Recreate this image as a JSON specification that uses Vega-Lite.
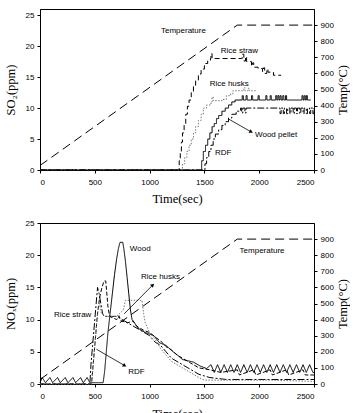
{
"$schema": "https://vega.github.io/schema/vega-lite/v6.json",
"padding": {"left": 3, "top": 8, "right": 0, "bottom": 0},
"spacing": 13,
"resolve": {"scale": {"color": "independent", "strokeDash": "independent"}},
"config": {
 "view": {"stroke": "#000", "strokeWidth": 1},
 "axis": {"grid": false, "domainColor": "#000", "tickColor": "#000", "labelColor": "#000", "titleColor": "#000", "labelFont": "Liberation Sans", "labelFontSize": 8, "titleFont": "Liberation Serif", "titleFontSize": 12.5, "titleFontWeight": "normal", "tickSize": 3, "labelPadding": 3, "labelOverlap": false},
 "text": {"font": "Liberation Sans", "fontSize": 8, "color": "#000"}
},
"datasets": {
 "temp": [{"t":0,"temp":28},{"t":1800,"temp":900},{"t":2500,"temp":900}],
 "so2": [
  {"s":"Rice straw","t":0,"v":0},{"s":"Rice straw","t":1260,"v":0},{"s":"Rice straw","t":1270,"v":1.5},{"s":"Rice straw","t":1280,"v":3},{"s":"Rice straw","t":1290,"v":4.5},{"s":"Rice straw","t":1300,"v":6},{"s":"Rice straw","t":1315,"v":7.5},{"s":"Rice straw","t":1330,"v":9},{"s":"Rice straw","t":1345,"v":10.3},{"s":"Rice straw","t":1360,"v":11.3},{"s":"Rice straw","t":1380,"v":12.5},{"s":"Rice straw","t":1400,"v":13.5},{"s":"Rice straw","t":1420,"v":14.5},{"s":"Rice straw","t":1445,"v":15.5},{"s":"Rice straw","t":1470,"v":16.3},{"s":"Rice straw","t":1500,"v":17.2},{"s":"Rice straw","t":1530,"v":17.7},{"s":"Rice straw","t":1555,"v":18},{"s":"Rice straw","t":1560,"v":18.8},{"s":"Rice straw","t":1570,"v":18},{"s":"Rice straw","t":1840,"v":18},{"s":"Rice straw","t":1845,"v":18.7},{"s":"Rice straw","t":1860,"v":17.6},{"s":"Rice straw","t":1875,"v":18.3},{"s":"Rice straw","t":1885,"v":17.5},{"s":"Rice straw","t":1930,"v":16.8},{"s":"Rice straw","t":1940,"v":17.3},{"s":"Rice straw","t":1950,"v":16.6},{"s":"Rice straw","t":1990,"v":16.4},{"s":"Rice straw","t":2030,"v":15.9},{"s":"Rice straw","t":2040,"v":16.5},{"s":"Rice straw","t":2050,"v":15.6},{"s":"Rice straw","t":2070,"v":16.3},{"s":"Rice straw","t":2080,"v":15.8},{"s":"Rice straw","t":2110,"v":15.8},{"s":"Rice straw","t":2130,"v":15.3},{"s":"Rice straw","t":2200,"v":15.3},
  {"s":"Rice husks","t":0,"v":0},{"s":"Rice husks","t":1290,"v":0},{"s":"Rice husks","t":1300,"v":1},{"s":"Rice husks","t":1320,"v":2},{"s":"Rice husks","t":1340,"v":3},{"s":"Rice husks","t":1360,"v":4},{"s":"Rice husks","t":1380,"v":5},{"s":"Rice husks","t":1400,"v":6},{"s":"Rice husks","t":1420,"v":7},{"s":"Rice husks","t":1445,"v":8},{"s":"Rice husks","t":1470,"v":9},{"s":"Rice husks","t":1490,"v":10},{"s":"Rice husks","t":1520,"v":10.5},{"s":"Rice husks","t":1560,"v":11},{"s":"Rice husks","t":1570,"v":11.8},{"s":"Rice husks","t":1580,"v":11.2},{"s":"Rice husks","t":1660,"v":11.4},{"s":"Rice husks","t":1700,"v":12},{"s":"Rice husks","t":1740,"v":12.3},{"s":"Rice husks","t":1760,"v":12.8},{"s":"Rice husks","t":1850,"v":12.8},{"s":"Rice husks","t":1860,"v":13.3},{"s":"Rice husks","t":1870,"v":12.8},{"s":"Rice husks","t":1900,"v":13.2},{"s":"Rice husks","t":1910,"v":12.8},{"s":"Rice husks","t":1970,"v":12.8},
  {"s":"Wood pellet","t":0,"v":0},{"s":"Wood pellet","t":1465,"v":0},{"s":"Wood pellet","t":1475,"v":1.5},{"s":"Wood pellet","t":1490,"v":3},{"s":"Wood pellet","t":1510,"v":4},{"s":"Wood pellet","t":1530,"v":5},{"s":"Wood pellet","t":1550,"v":6},{"s":"Wood pellet","t":1570,"v":7},{"s":"Wood pellet","t":1590,"v":7.5},{"s":"Wood pellet","t":1610,"v":8.3},{"s":"Wood pellet","t":1630,"v":8.8},{"s":"Wood pellet","t":1660,"v":9.5},{"s":"Wood pellet","t":1690,"v":10},{"s":"Wood pellet","t":1720,"v":10.5},{"s":"Wood pellet","t":1750,"v":11},{"s":"Wood pellet","t":1780,"v":11.3},{"s":"Wood pellet","t":1840,"v":11.3},{"s":"Wood pellet","t":1845,"v":12},{"s":"Wood pellet","t":1855,"v":11.3},{"s":"Wood pellet","t":1880,"v":12},{"s":"Wood pellet","t":1890,"v":11.3},{"s":"Wood pellet","t":1930,"v":12},{"s":"Wood pellet","t":1940,"v":11.3},{"s":"Wood pellet","t":1990,"v":12},{"s":"Wood pellet","t":2000,"v":11.3},{"s":"Wood pellet","t":2060,"v":12},{"s":"Wood pellet","t":2070,"v":11.3},{"s":"Wood pellet","t":2100,"v":12},{"s":"Wood pellet","t":2110,"v":11.3},{"s":"Wood pellet","t":2150,"v":12},{"s":"Wood pellet","t":2160,"v":11.3},{"s":"Wood pellet","t":2170,"v":12},{"s":"Wood pellet","t":2180,"v":11.3},{"s":"Wood pellet","t":2190,"v":12},{"s":"Wood pellet","t":2200,"v":11.3},{"s":"Wood pellet","t":2215,"v":12},{"s":"Wood pellet","t":2225,"v":11.3},{"s":"Wood pellet","t":2240,"v":12},{"s":"Wood pellet","t":2250,"v":11.3},{"s":"Wood pellet","t":2390,"v":12},{"s":"Wood pellet","t":2400,"v":11.3},{"s":"Wood pellet","t":2410,"v":12},{"s":"Wood pellet","t":2420,"v":11.3},{"s":"Wood pellet","t":2430,"v":12},{"s":"Wood pellet","t":2440,"v":11.3},{"s":"Wood pellet","t":2470,"v":11.3},
  {"s":"RDF","t":0,"v":0},{"s":"RDF","t":1495,"v":0},{"s":"RDF","t":1505,"v":1},{"s":"RDF","t":1520,"v":2},{"s":"RDF","t":1540,"v":3},{"s":"RDF","t":1560,"v":4},{"s":"RDF","t":1580,"v":5},{"s":"RDF","t":1600,"v":5.8},{"s":"RDF","t":1630,"v":6.5},{"s":"RDF","t":1660,"v":7.2},{"s":"RDF","t":1690,"v":7.8},{"s":"RDF","t":1720,"v":8.4},{"s":"RDF","t":1750,"v":9},{"s":"RDF","t":1790,"v":9.5},{"s":"RDF","t":1830,"v":10},{"s":"RDF","t":1840,"v":9.2},{"s":"RDF","t":1850,"v":10},{"s":"RDF","t":1870,"v":9.2},{"s":"RDF","t":1880,"v":10},{"s":"RDF","t":2180,"v":10},{"s":"RDF","t":2190,"v":9.1},{"s":"RDF","t":2200,"v":10},{"s":"RDF","t":2220,"v":9.1},{"s":"RDF","t":2230,"v":10},{"s":"RDF","t":2250,"v":9.1},{"s":"RDF","t":2260,"v":10},{"s":"RDF","t":2280,"v":9.1},{"s":"RDF","t":2290,"v":10},{"s":"RDF","t":2310,"v":9.1},{"s":"RDF","t":2320,"v":10},{"s":"RDF","t":2340,"v":9.1},{"s":"RDF","t":2350,"v":10},{"s":"RDF","t":2370,"v":9.1},{"s":"RDF","t":2380,"v":10},{"s":"RDF","t":2400,"v":9.1},{"s":"RDF","t":2410,"v":10},{"s":"RDF","t":2430,"v":9.1},{"s":"RDF","t":2440,"v":10},{"s":"RDF","t":2460,"v":9.1},{"s":"RDF","t":2470,"v":10},{"s":"RDF","t":2490,"v":9.1},{"s":"RDF","t":2500,"v":10}
 ],
 "lab1": [
  {"t":1104,"v":22.4,"label":"Temperature"},
  {"t":1649,"v":19.2,"label":"Rice straw"},
  {"t":1548,"v":13.9,"label":"Rice husks"},
  {"t":1962,"v":5.7,"label":"Wood pellet"},
  {"t":1597,"v":2.8,"label":"RDF"}
 ],
 "arr1": [{"name":"Wood pellet","t":1724,"v":8.2,"t2":1922,"v2":6.2}],
 "nox": [
  {"s":"Wood","t":0,"v":0.2},{"s":"Wood","t":20,"v":1},{"s":"Wood","t":50,"v":0.2},{"s":"Wood","t":90,"v":1},{"s":"Wood","t":115,"v":0.2},{"s":"Wood","t":160,"v":1},{"s":"Wood","t":185,"v":0.2},{"s":"Wood","t":230,"v":1},{"s":"Wood","t":255,"v":0.2},{"s":"Wood","t":300,"v":1},{"s":"Wood","t":325,"v":0.2},{"s":"Wood","t":370,"v":1},{"s":"Wood","t":395,"v":0.2},{"s":"Wood","t":430,"v":1},{"s":"Wood","t":455,"v":0.2},{"s":"Wood","t":576,"v":0.2},{"s":"Wood","t":590,"v":2},{"s":"Wood","t":605,"v":5},{"s":"Wood","t":620,"v":8},{"s":"Wood","t":640,"v":11},{"s":"Wood","t":660,"v":14},{"s":"Wood","t":680,"v":17},{"s":"Wood","t":700,"v":19.5},{"s":"Wood","t":715,"v":21},{"s":"Wood","t":730,"v":22},{"s":"Wood","t":755,"v":22},{"s":"Wood","t":765,"v":21},{"s":"Wood","t":780,"v":19},{"s":"Wood","t":795,"v":16.5},{"s":"Wood","t":810,"v":14},{"s":"Wood","t":825,"v":11.5},{"s":"Wood","t":840,"v":10},{"s":"Wood","t":870,"v":9.3},{"s":"Wood","t":900,"v":8.6},{"s":"Wood","t":960,"v":8},{"s":"Wood","t":1040,"v":7.5},{"s":"Wood","t":1090,"v":6.4},{"s":"Wood","t":1150,"v":6},{"s":"Wood","t":1200,"v":5.2},{"s":"Wood","t":1260,"v":4.4},{"s":"Wood","t":1300,"v":3.8},{"s":"Wood","t":1400,"v":3.4},{"s":"Wood","t":1460,"v":2.8},{"s":"Wood","t":1520,"v":2.4},{"s":"Wood","t":1560,"v":3},{"s":"Wood","t":1590,"v":1.8},{"s":"Wood","t":1620,"v":3},{"s":"Wood","t":1650,"v":1.8},{"s":"Wood","t":1680,"v":3},{"s":"Wood","t":1710,"v":1.8},{"s":"Wood","t":1740,"v":3},{"s":"Wood","t":1770,"v":1.8},{"s":"Wood","t":1800,"v":3},{"s":"Wood","t":1830,"v":1.8},{"s":"Wood","t":1860,"v":3},{"s":"Wood","t":1890,"v":1.8},{"s":"Wood","t":1920,"v":3},{"s":"Wood","t":1950,"v":1.8},{"s":"Wood","t":1980,"v":3},{"s":"Wood","t":2010,"v":1.8},{"s":"Wood","t":2040,"v":3},{"s":"Wood","t":2070,"v":1.8},{"s":"Wood","t":2100,"v":3},{"s":"Wood","t":2130,"v":1.8},{"s":"Wood","t":2160,"v":3},{"s":"Wood","t":2190,"v":1.8},{"s":"Wood","t":2220,"v":3},{"s":"Wood","t":2250,"v":1.8},{"s":"Wood","t":2280,"v":3},{"s":"Wood","t":2310,"v":1.8},{"s":"Wood","t":2340,"v":3},{"s":"Wood","t":2370,"v":1.8},{"s":"Wood","t":2400,"v":3},{"s":"Wood","t":2430,"v":1.8},{"s":"Wood","t":2460,"v":3},{"s":"Wood","t":2490,"v":1.8},{"s":"Wood","t":2500,"v":1.8},
  {"s":"RDF","t":0,"v":0},{"s":"RDF","t":470,"v":0},{"s":"RDF","t":480,"v":2},{"s":"RDF","t":495,"v":5},{"s":"RDF","t":510,"v":8},{"s":"RDF","t":525,"v":11},{"s":"RDF","t":545,"v":13.5},{"s":"RDF","t":565,"v":15},{"s":"RDF","t":585,"v":16},{"s":"RDF","t":600,"v":16},{"s":"RDF","t":610,"v":14},{"s":"RDF","t":620,"v":12},{"s":"RDF","t":635,"v":10.5},{"s":"RDF","t":700,"v":10},{"s":"RDF","t":720,"v":10.6},{"s":"RDF","t":740,"v":9.8},{"s":"RDF","t":800,"v":9.5},{"s":"RDF","t":850,"v":9.8},{"s":"RDF","t":880,"v":9},{"s":"RDF","t":950,"v":8.3},{"s":"RDF","t":1000,"v":8},{"s":"RDF","t":1050,"v":7.3},{"s":"RDF","t":1100,"v":6.7},{"s":"RDF","t":1150,"v":5.8},{"s":"RDF","t":1200,"v":5.3},{"s":"RDF","t":1250,"v":4.5},{"s":"RDF","t":1300,"v":4},{"s":"RDF","t":1350,"v":3.5},{"s":"RDF","t":1400,"v":3},{"s":"RDF","t":1450,"v":2.5},{"s":"RDF","t":1550,"v":2.2},{"s":"RDF","t":1650,"v":1.8},{"s":"RDF","t":1800,"v":2.2},{"s":"RDF","t":1820,"v":1.4},{"s":"RDF","t":1950,"v":2.2},{"s":"RDF","t":1970,"v":1.4},{"s":"RDF","t":2100,"v":2.2},{"s":"RDF","t":2120,"v":1.4},{"s":"RDF","t":2250,"v":2.2},{"s":"RDF","t":2270,"v":1.4},{"s":"RDF","t":2400,"v":2.2},{"s":"RDF","t":2420,"v":1.4},{"s":"RDF","t":2500,"v":1.4},
  {"s":"Rice straw","t":0,"v":0},{"s":"Rice straw","t":455,"v":0},{"s":"Rice straw","t":465,"v":3},{"s":"Rice straw","t":480,"v":6},{"s":"Rice straw","t":495,"v":9},{"s":"Rice straw","t":510,"v":12},{"s":"Rice straw","t":525,"v":15},{"s":"Rice straw","t":540,"v":14},{"s":"Rice straw","t":555,"v":12.5},{"s":"Rice straw","t":570,"v":11},{"s":"Rice straw","t":585,"v":10.5},{"s":"Rice straw","t":700,"v":10.5},{"s":"Rice straw","t":750,"v":10},{"s":"Rice straw","t":800,"v":9.5},{"s":"Rice straw","t":850,"v":9},{"s":"Rice straw","t":900,"v":8.5},{"s":"Rice straw","t":950,"v":8},{"s":"Rice straw","t":1000,"v":7.5},{"s":"Rice straw","t":1050,"v":6.5},{"s":"Rice straw","t":1100,"v":6},{"s":"Rice straw","t":1150,"v":5},{"s":"Rice straw","t":1200,"v":4},{"s":"Rice straw","t":1250,"v":3.5},{"s":"Rice straw","t":1300,"v":3},{"s":"Rice straw","t":1350,"v":2.5},{"s":"Rice straw","t":1400,"v":2},{"s":"Rice straw","t":1450,"v":1.5},{"s":"Rice straw","t":1550,"v":1},{"s":"Rice straw","t":1700,"v":0.7},{"s":"Rice straw","t":2500,"v":0.7},
  {"s":"Rice husks","t":0,"v":0},{"s":"Rice husks","t":470,"v":0},{"s":"Rice husks","t":485,"v":3},{"s":"Rice husks","t":500,"v":6},{"s":"Rice husks","t":515,"v":9},{"s":"Rice husks","t":530,"v":11.5},{"s":"Rice husks","t":545,"v":12.5},{"s":"Rice husks","t":560,"v":11},{"s":"Rice husks","t":600,"v":10.5},{"s":"Rice husks","t":700,"v":10.5},{"s":"Rice husks","t":760,"v":11.5},{"s":"Rice husks","t":780,"v":13},{"s":"Rice husks","t":930,"v":13},{"s":"Rice husks","t":945,"v":11},{"s":"Rice husks","t":960,"v":9.5},{"s":"Rice husks","t":1000,"v":8},{"s":"Rice husks","t":1050,"v":7},{"s":"Rice husks","t":1100,"v":5.5},{"s":"Rice husks","t":1150,"v":4.5},{"s":"Rice husks","t":1200,"v":3.5},{"s":"Rice husks","t":1250,"v":3},{"s":"Rice husks","t":1300,"v":2.5},{"s":"Rice husks","t":1350,"v":2},{"s":"Rice husks","t":1400,"v":1.5},{"s":"Rice husks","t":1450,"v":1},{"s":"Rice husks","t":1500,"v":0.6},{"s":"Rice husks","t":2100,"v":0.6},{"s":"Rice husks","t":2500,"v":0.4}
 ],
 "lab2": [
  {"t":820,"v":21,"label":"Wood"},
  {"t":921,"v":16.6,"label":"Rice husks"},
  {"t":128,"v":10.7,"label":"Rice straw"},
  {"t":805,"v":1.9,"label":"RDF"},
  {"t":1821,"v":20.7,"label":"Temperature"}
 ],
 "arr2": [
  {"name":"Rice husks","t":768,"v":10.9,"t2":1025,"v2":15.3},
  {"name":"RDF","t":515,"v":5.4,"t2":768,"v2":2.9}
 ]
},
"vconcat": [
 {
  "width": 274, "height": 161,
  "resolve": {"scale": {"y": "independent"}},
  "layer": [
   {
    "data": {"name": "temp"},
    "mark": {"type": "line", "color": "#000", "strokeWidth": 1, "strokeDash": [9, 5]},
    "encoding": {
     "x": {"field": "t", "type": "quantitative", "scale": {"domain": [0, 2500], "nice": false}, "axis": {"values": [0, 500, 1000, 1500, 2000, 2500], "format": "d", "title": "Time(sec)", "labelPadding": 5, "titlePadding": 6}},
     "y": {"field": "temp", "type": "quantitative", "scale": {"domain": [0, 1000], "nice": false}, "axis": {"orient": "right", "values": [0, 100, 200, 300, 400, 500, 600, 700, 800, 900], "title": "Temp(°C)", "titleAngle": 270, "titlePadding": 16}}
    }
   },
   {
    "layer": [
     {
      "data": {"name": "so2"},
      "mark": {"type": "line", "strokeWidth": 1, "interpolate": "step-after"},
      "encoding": {
       "x": {"field": "t", "type": "quantitative", "scale": {"domain": [0, 2500], "nice": false}, "axis": {"values": [0, 500, 1000, 1500, 2000, 2500], "format": "d", "title": "Time(sec)", "labelPadding": 5, "titlePadding": 6}},
       "y": {"field": "v", "type": "quantitative", "scale": {"domain": [0, 26], "nice": false}, "axis": {"orient": "left", "values": [0, 5, 10, 15, 20, 25], "title": "SO₂(ppm)", "titlePadding": 8}},
       "detail": {"field": "s"},
       "color": {"field": "s", "type": "nominal", "legend": null, "scale": {"domain": ["Rice straw", "Rice husks", "Wood pellet", "RDF"], "range": ["#000", "#777", "#000", "#000"]}},
       "strokeDash": {"field": "s", "type": "nominal", "legend": null, "scale": {"domain": ["Rice straw", "Rice husks", "Wood pellet", "RDF"], "range": [[5, 3], [1.5, 1.5], [1, 0], [7, 2, 2, 2]]}}
      }
     },
     {
      "data": {"name": "lab1"},
      "mark": {"type": "text", "align": "left", "baseline": "middle", "fontSize": 8, "font": "Liberation Sans"},
      "encoding": {
       "x": {"field": "t", "type": "quantitative", "axis": {"values": [0, 500, 1000, 1500, 2000, 2500], "format": "d", "title": "Time(sec)", "labelPadding": 5, "titlePadding": 6}},
       "y": {"field": "v", "type": "quantitative", "axis": {"orient": "left", "values": [0, 5, 10, 15, 20, 25], "title": "SO₂(ppm)", "titlePadding": 8}},
       "text": {"field": "label"}}
     },
     {
      "data": {"name": "arr1"},
      "mark": {"type": "rule", "color": "#000", "strokeWidth": 0.8},
      "encoding": {
       "x": {"field": "t", "type": "quantitative", "axis": {"values": [0, 500, 1000, 1500, 2000, 2500], "format": "d", "title": "Time(sec)", "labelPadding": 5, "titlePadding": 6}},
       "y": {"field": "v", "type": "quantitative", "axis": {"orient": "left", "values": [0, 5, 10, 15, 20, 25], "title": "SO₂(ppm)", "titlePadding": 8}},
       "x2": {"field": "t2"}, "y2": {"field": "v2"}}
     },
     {
      "data": {"name": "arr1"},
      "mark": {"type": "point", "shape": "triangle", "filled": true, "size": 18, "color": "#000", "opacity": 1, "angle": 120},
      "encoding": {
       "x": {"field": "t2", "type": "quantitative", "axis": {"values": [0, 500, 1000, 1500, 2000, 2500], "format": "d", "title": "Time(sec)", "labelPadding": 5, "titlePadding": 6}},
       "y": {"field": "v2", "type": "quantitative", "axis": {"orient": "left", "values": [0, 5, 10, 15, 20, 25], "title": "SO₂(ppm)", "titlePadding": 8}}}
     }
    ]
   }
  ]
 },
 {
  "width": 274, "height": 161,
  "resolve": {"scale": {"y": "independent"}},
  "layer": [
   {
    "data": {"name": "temp"},
    "mark": {"type": "line", "color": "#000", "strokeWidth": 1, "strokeDash": [9, 5]},
    "encoding": {
     "x": {"field": "t", "type": "quantitative", "scale": {"domain": [0, 2500], "nice": false}, "axis": {"values": [0, 500, 1000, 1500, 2000, 2500], "format": "d", "title": "Time(sec)", "labelPadding": 5, "titlePadding": 7}},
     "y": {"field": "temp", "type": "quantitative", "scale": {"domain": [0, 1000], "nice": false}, "axis": {"orient": "right", "values": [0, 100, 200, 300, 400, 500, 600, 700, 800, 900], "title": "Temp(°C)", "titleAngle": 270, "titlePadding": 16}}
    }
   },
   {
    "layer": [
     {
      "data": {"name": "nox"},
      "mark": {"type": "line", "strokeWidth": 1, "interpolate": "linear"},
      "encoding": {
       "x": {"field": "t", "type": "quantitative", "scale": {"domain": [0, 2500], "nice": false}, "axis": {"values": [0, 500, 1000, 1500, 2000, 2500], "format": "d", "title": "Time(sec)", "labelPadding": 5, "titlePadding": 7}},
       "y": {"field": "v", "type": "quantitative", "scale": {"domain": [0, 25], "nice": false}, "axis": {"orient": "left", "values": [0, 5, 10, 15, 20, 25], "title": "NOₓ(ppm)", "titlePadding": 8}},
       "detail": {"field": "s"},
       "color": {"field": "s", "type": "nominal", "legend": null, "scale": {"domain": ["Wood", "RDF", "Rice straw", "Rice husks"], "range": ["#000", "#000", "#000", "#777"]}},
       "strokeDash": {"field": "s", "type": "nominal", "legend": null, "scale": {"domain": ["Wood", "RDF", "Rice straw", "Rice husks"], "range": [[1, 0], [4, 2], [7, 2, 2, 2], [1.5, 1.5]]}}
      }
     },
     {
      "data": {"name": "lab2"},
      "mark": {"type": "text", "align": "left", "baseline": "middle", "fontSize": 8, "font": "Liberation Sans"},
      "encoding": {
       "x": {"field": "t", "type": "quantitative", "axis": {"values": [0, 500, 1000, 1500, 2000, 2500], "format": "d", "title": "Time(sec)", "labelPadding": 5, "titlePadding": 7}},
       "y": {"field": "v", "type": "quantitative", "axis": {"orient": "left", "values": [0, 5, 10, 15, 20, 25], "title": "NOₓ(ppm)", "titlePadding": 8}},
       "text": {"field": "label"}}
     },
     {
      "data": {"name": "arr2"},
      "mark": {"type": "rule", "color": "#000", "strokeWidth": 0.8},
      "encoding": {
       "x": {"field": "t", "type": "quantitative", "axis": {"values": [0, 500, 1000, 1500, 2000, 2500], "format": "d", "title": "Time(sec)", "labelPadding": 5, "titlePadding": 7}},
       "y": {"field": "v", "type": "quantitative", "axis": {"orient": "left", "values": [0, 5, 10, 15, 20, 25], "title": "NOₓ(ppm)", "titlePadding": 8}},
       "x2": {"field": "t2"}, "y2": {"field": "v2"}}
     },
     {
      "data": {"name": "arr2"},
      "transform": [{"filter": "datum.name == 'Rice husks'"}],
      "mark": {"type": "point", "shape": "triangle", "filled": true, "size": 18, "color": "#000", "opacity": 1, "angle": 45},
      "encoding": {
       "x": {"field": "t2", "type": "quantitative", "axis": {"values": [0, 500, 1000, 1500, 2000, 2500], "format": "d", "title": "Time(sec)", "labelPadding": 5, "titlePadding": 7}},
       "y": {"field": "v2", "type": "quantitative", "axis": {"orient": "left", "values": [0, 5, 10, 15, 20, 25], "title": "NOₓ(ppm)", "titlePadding": 8}}}
     },
     {
      "data": {"name": "arr2"},
      "transform": [{"filter": "datum.name == 'RDF'"}],
      "mark": {"type": "point", "shape": "triangle", "filled": true, "size": 18, "color": "#000", "opacity": 1, "angle": 121},
      "encoding": {
       "x": {"field": "t2", "type": "quantitative", "axis": {"values": [0, 500, 1000, 1500, 2000, 2500], "format": "d", "title": "Time(sec)", "labelPadding": 5, "titlePadding": 7}},
       "y": {"field": "v2", "type": "quantitative", "axis": {"orient": "left", "values": [0, 5, 10, 15, 20, 25], "title": "NOₓ(ppm)", "titlePadding": 8}}}
     }
    ]
   }
  ]
 }
]
}
